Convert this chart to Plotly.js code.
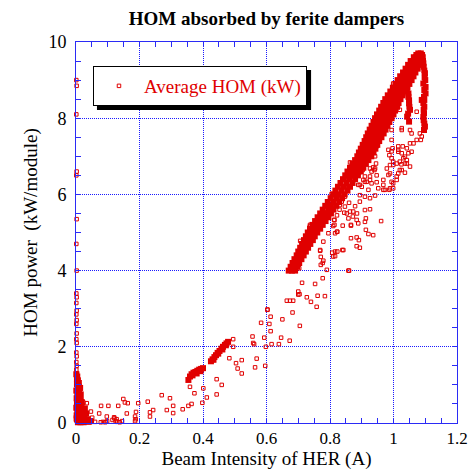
<!DOCTYPE html>
<html>
<head>
<meta charset="utf-8">
<script src="https://cdn.plot.ly/plotly-3.0.1.min.js"></script>
<style>html,body{margin:0;padding:0;background:#fff;}#chart{width:473px;height:470px;}</style>
</head>
<body>
<div id="chart"></div>
<script>
// ---- Data ----
const chartTitle = "HOM absorbed by ferite dampers";
const xTitle = "Beam Intensity of HER (A)";
const yTitle = "HOM power\u00a0\u00a0(kW/module)";
const seriesName = "Average HOM (kW)";

// isolated points hugging the vertical axis (x ~ 0)
const axisX = [0.001,0.002,0.001,0.002,0.001,0.002,0.001,0.002,0.001,0.002,0.001,0.002,0.001,0.002,0.001,0.002,0.001,0.002,0.001,0.002,0.001,0.002,0.001,0.003];
const axisY = [9.00,8.85,8.10,6.60,6.50,5.35,4.70,4.00,3.40,3.30,3.15,2.95,2.85,2.70,2.60,2.35,2.20,2.10,1.85,1.75,1.60,1.50,1.40,1.30];

// dense cluster near the origin
const originX = [0.004,0.006,0.003,0.008,0.005,0.010,0.004,0.012,0.007,0.015,0.003,0.010,0.018,0.006,0.013,0.022,0.004,0.009,0.016,0.027,0.005,0.012,0.020,0.003,0.010,0.018,0.030,0.040,0.006,0.014,0.024,0.035,0.045,0.008,0.002,0.007,0.011,0.016,0.002,0.013,0.020,0.025,0.009,0.003,0.028,0.032,0.015,0.018,0.001,0.001,0.002,0.001];
const originY = [1.22,1.12,1.02,0.96,0.88,0.82,0.74,0.70,0.63,0.60,0.55,0.50,0.46,0.42,0.36,0.35,0.30,0.26,0.24,0.20,0.17,0.14,0.12,0.09,0.06,0.05,0.05,0.03,0.02,0.02,0.02,0.10,0.05,0.45,0.65,0.78,0.38,0.15,0.20,0.92,0.30,0.10,1.05,1.15,0.38,0.25,0.75,0.55,0.85,0.40,0.12,1.28];

// low-intensity scattered points (0.02 - 0.72 A)
const lowX = [0.023,0.034,0.047,0.051,0.079,0.073,0.102,0.097,0.121,0.133,0.149,0.154,0.163,0.160,0.186,0.189,0.196,0.226,0.233,0.233,0.243,0.270,0.286,0.296,0.306,0.306,
  0.078,0.085,0.092,0.098,0.115,0.120,0.125,0.130,0.138,0.145,0.050,0.060,0.188,0.186,0.128,
  0.336,0.354,0.364,0.359,0.373,0.401,0.398,0.412,0.443,0.459,0.443,
  0.483,0.504,0.522,0.509,0.522,0.495,0.495,0.556,0.569,0.561,0.564,0.558,
  0.583,0.593,0.598,0.596,0.603,0.613,0.609,0.613,0.616,0.639,0.646,0.650,0.673,0.664,0.684,0.682,0.700,0.704,0.705,0.603];
const lowY = [0.54,0.52,0.30,0.14,0.45,0.25,0.45,0.17,0.12,0.45,0.63,0.54,0.52,0.25,0.17,0.29,0.52,0.56,0.28,0.17,0.34,0.73,0.34,0.65,0.45,0.26,
  0.02,0.03,0.02,0.05,0.08,0.15,0.05,0.03,0.02,0.05,0.06,0.03,0.10,0.05,0.10,
  0.36,0.45,0.50,0.95,0.78,0.91,0.53,0.67,1.15,1.00,0.75,
  1.70,1.57,1.65,1.43,1.30,2.20,2.00,2.27,1.69,2.07,1.46,2.10,
  2.63,2.24,2.00,1.50,2.97,2.79,2.60,2.41,2.07,2.07,2.24,2.72,2.16,3.21,3.21,2.90,3.45,3.38,2.55,2.98];

// two short dense runs at 0.35-0.40 A and 0.42-0.48 A
const runX = [0.354,0.359,0.364,0.370,0.376,0.382,0.388,0.394,0.400,0.367,0.380,0.392,
  0.425,0.430,0.436,0.441,0.446,0.452,0.458,0.463,0.469,0.474,0.479,0.433,0.448,0.461,0.472];
const runY = [1.13,1.22,1.28,1.32,1.34,1.37,1.40,1.42,1.44,1.25,1.30,1.36,
  1.62,1.67,1.73,1.78,1.84,1.89,1.95,2.00,2.05,2.09,2.13,1.66,1.82,1.93,2.04];

// dense rising band: kW level and the intensities seen at that level
const bandLevels = [4.0,4.1,4.2,4.3,4.4,4.5,4.6,4.7,4.8,4.9,5.0,5.1,5.2,5.3,5.4,5.5,5.6,5.7,5.8,5.9,6.0,6.1,6.2,6.3,6.4,
  6.5,6.6,6.7,6.8,6.9,7.0,7.1,7.2,7.3,7.4,7.5,7.6,7.7,7.8,7.9,8.0,8.1,8.2,8.3,8.4,8.5,8.6,8.7,8.8,8.9,9.0,9.1,9.2,9.3,9.4,9.5,9.6,9.66,9.70];
const bandIntensities = [
  [0.670,0.680,0.690],[0.676,0.687,0.697],[0.682,0.693,0.703],[0.688,0.700,0.710],[0.695,0.706,0.717],
  [0.700,0.712,0.724],[0.706,0.719,0.731],[0.712,0.726,0.738],[0.718,0.732,0.746],[0.724,0.739,0.752],
  [0.730,0.745,0.760],[0.737,0.753,0.769],[0.745,0.761,0.777],[0.753,0.770,0.786],[0.761,0.778,0.795],
  [0.769,0.786,0.803],[0.777,0.795,0.811],[0.785,0.803,0.820],[0.793,0.811,0.829],[0.802,0.820,0.838],
  [0.810,0.828,0.846],[0.817,0.836,0.855],[0.825,0.844,0.863],[0.833,0.852,0.871],[0.841,0.860,0.879],
  [0.848,0.858,0.868,0.878,0.888],[0.855,0.866,0.876,0.886,0.897],[0.863,0.874,0.884,0.894,0.905],
  [0.871,0.882,0.892,0.902,0.913],[0.879,0.890,0.900,0.910,0.921],[0.886,0.897,0.908,0.919,0.930],
  [0.891,0.903,0.914,0.925,0.937],[0.897,0.909,0.920,0.931,0.943],[0.903,0.915,0.926,0.937,0.949],
  [0.909,0.921,0.932,0.943,0.955],[0.914,0.926,0.938,0.950,0.962],[0.919,0.932,0.944,0.956,0.969],
  [0.925,0.938,0.950,0.962,0.975],[0.931,0.944,0.956,0.968,0.981],[0.937,0.950,0.962,0.974,0.987],
  [0.942,0.955,0.968,0.981,0.994],[0.948,0.961,0.974,0.987,1.000],[0.955,0.968,0.980,0.992,1.005],
  [0.961,0.974,0.986,0.998,1.011],[0.968,0.980,0.992,1.004,1.016],[0.974,0.986,0.998,1.010,1.022],
  [0.982,0.994,1.005,1.016,1.028],[0.990,1.002,1.013,1.024,1.035],[0.998,1.009,1.020,1.031,1.042],
  [1.006,1.017,1.028,1.039,1.050],[1.013,1.024,1.035,1.046,1.057],[1.021,1.031,1.042,1.052,1.063],
  [1.030,1.040,1.050,1.060,1.069],[1.038,1.047,1.057,1.066,1.076],[1.046,1.055,1.064,1.073,1.082],
  [1.054,1.063,1.072,1.081,1.090],[1.064,1.071,1.078,1.085,1.092],[1.072,1.082,1.090],[1.078,1.086]];

// falling branches near the top (right edge ~1.09 A and inner ~1.04 A)
const branchX = [1.090,1.093,1.094,1.095,1.097,1.099,1.098,1.100,1.094,1.101,1.097,1.101,1.096,1.097,1.094,1.097,1.095,1.096,1.094,1.095,1.097,1.099,1.096,1.089,
  1.048,1.045,1.042,1.044,1.042,1.047,1.047,1.049,1.049,1.050,1.052,1.043,1.049,1.046];
const branchY = [9.60,9.50,9.44,9.35,9.25,9.18,9.08,9.00,8.91,8.82,8.74,8.65,8.56,8.48,8.40,8.30,8.22,8.13,8.04,7.95,7.86,7.78,7.69,8.48,
  9.05,8.95,8.91,8.82,8.74,8.65,8.56,8.47,8.39,8.30,8.22,8.04,7.91,8.12];

// scattered points below / right of the band
const scatterX = [0.706,0.737,0.771,0.795,0.805,0.834,0.863,0.703,0.712,0.753,0.777,0.784,0.761,0.727,0.700,0.740,0.758,0.674,
  0.790,0.771,0.771,0.779,0.769,0.807,0.816,0.823,0.839,0.860,0.866,0.884,0.884,0.913,0.921,0.936,0.813,0.823,0.840,0.866,0.810,
  0.831,0.847,0.853,0.858,0.863,0.873,0.884,0.879,0.894,0.910,0.910,0.926,0.894,0.910,0.926,0.942,0.961,0.913,0.837,0.847,
  0.894,0.910,0.926,0.947,0.947,0.968,0.973,0.987,0.994,0.999,1.010,1.020,1.036,0.989,0.999,1.010,1.025,1.036,0.979,0.989,0.926,0.942,0.945,0.910,0.903,0.942,0.987,0.994,1.015,1.036,0.999,
  0.994,0.994,0.997,0.984,0.994,1.020,1.042,1.042,1.052,1.026,1.015,1.010,0.947,0.936,0.926,
  1.052,1.057,1.073,1.083,1.089,1.086,1.073,1.063,1.052,1.042,1.057,1.047,1.026,1.026,1.029,1.015,1.015,
  0.979,0.987,1.020,1.015,0.999,0.968,1.026,1.031,0.984,0.968,0.931,0.916,0.905,0.900,0.889,0.921,0.952,0.968,0.989,0.999,0.931,0.940,
  0.737,0.769,0.779,0.814,0.814,0.816,0.822,0.866,0.842,0.816,0.810,0.769,0.777,0.858,0.889,0.891,0.894,0.784,0.822,0.830,0.845,0.860,0.872,0.885];
const scatterY = [4.78,5.17,5.35,4.98,6.01,6.29,6.84,4.06,3.68,3.65,3.80,3.33,3.34,3.30,3.37,3.18,3.05,3.21,
  4.02,4.15,4.36,4.26,4.52,4.47,4.38,4.50,4.54,4.00,4.85,4.87,4.64,5.07,4.96,4.93,5.33,5.02,5.18,5.18,5.17,
  5.72,5.68,5.50,5.37,5.55,5.55,5.33,5.69,5.81,5.59,5.28,5.61,5.98,5.94,5.90,5.97,5.30,5.37,5.81,5.94,
  6.25,6.33,6.38,6.32,6.50,6.25,6.12,6.12,6.33,6.16,6.38,6.64,6.57,6.77,6.77,6.81,6.79,6.81,6.68,6.55,6.68,6.68,6.81,6.47,6.64,7.00,7.03,7.13,7.12,6.99,6.86,
  7.69,7.43,7.21,7.17,6.95,6.86,6.90,6.81,6.73,6.64,6.55,6.47,7.26,6.71,6.47,
  7.69,7.60,8.17,7.60,7.52,7.43,7.43,7.34,7.34,7.21,7.12,7.08,7.74,7.69,7.26,7.26,7.17,
  8.43,8.30,8.22,8.35,8.91,7.60,7.08,6.95,6.51,6.38,6.29,6.33,6.38,6.20,6.25,6.12,6.16,6.12,6.16,6.29,6.60,6.64,
  5.20,5.37,4.76,5.33,5.20,4.98,5.02,5.20,4.54,4.50,4.37,4.54,4.20,4.00,5.24,4.80,4.60,5.63,5.45,5.60,5.52,5.78,5.42,5.50];

const xTickVals = [0,0.2,0.4,0.6,0.8,1,1.2];
const xTickText = ["0","0.2","0.4","0.6","0.8","1","1.2"];
const yTickVals = [0,2,4,6,8,10];
const yTickText = ["0","2","4","6","8","10"];

// ---- assemble ----
const bandX = [], bandY = [];
bandLevels.forEach((lv, i) => bandIntensities[i].forEach(v => { bandX.push(v); bandY.push(lv); }));
const sparseX = [].concat(axisX, lowX, scatterX);
const sparseY = [].concat(axisY, lowY, scatterY);
const denseX = [].concat(originX, runX, bandX, branchX);
const denseY = [].concat(originY, runY, bandY, branchY);

const red = '#e00000';
const blue = '#2b2bf5';
const serif = '"Liberation Serif", "Times New Roman", Times, serif';

const sparseTrace = {
  type: 'scatter', mode: 'markers', name: seriesName, legendgroup: 'hom',
  x: sparseX, y: sparseY, cliponaxis: false,
  marker: {symbol: 'square-open', size: 3.5, color: red, line: {width: 1, color: red}}
};
const denseTrace = {
  type: 'scatter', mode: 'markers', name: seriesName, legendgroup: 'hom', showlegend: false,
  x: denseX, y: denseY, cliponaxis: false,
  marker: {symbol: 'square', size: 6, color: red, line: {width: 0}}
};

function axis(tv, tt, minorD, range, title, tickSize, tickStandoff, titleStandoff) {
  return {
    range: range,
    tickmode: 'array', tickvals: tv, ticktext: tt,
    showgrid: true, gridcolor: '#1a1aff', griddash: '1px,1px', gridwidth: 1,
    zeroline: false, showline: true, linecolor: blue, linewidth: 1, mirror: 'allticks',
    ticks: 'inside', ticklen: 5, tickcolor: blue, tickwidth: 1,
    minor: {dtick: minorD, tick0: 0, ticks: 'inside', ticklen: 5, tickcolor: blue, tickwidth: 1, showgrid: false},
    tickfont: {family: serif, size: tickSize, color: '#000'},
    ticklabelstandoff: tickStandoff,
    title: {text: title, font: {family: serif, size: 19, color: '#000'}, standoff: titleStandoff},
    fixedrange: true
  };
}

const layout = {
  width: 473, height: 470,
  margin: {l: 76, r: 16, t: 42, b: 47, pad: 0},
  paper_bgcolor: '#fff', plot_bgcolor: '#fff',
  title: {text: '<b>' + chartTitle + '</b>', font: {family: serif, size: 19, color: '#000'},
          x: 0.5, xref: 'paper', y: 0.962, yref: 'container', yanchor: 'middle'},
  xaxis: axis(xTickVals, xTickText, 0.05, [0, 1.2], xTitle, 17, 0, 8),
  yaxis: axis(yTickVals, yTickText, 0.5, [0, 10], yTitle, 18, 5, 5),
  showlegend: true,
  legend: {x: 0.0446, y: 0.937, xanchor: 'left', yanchor: 'top', bgcolor: '#fff',
           bordercolor: '#000', borderwidth: 1, itemwidth: 40,
           font: {family: serif, size: 19, color: red}},
  // drop shadow of the legend box (offset right / down)
  shapes: [{type: 'rect', xref: 'paper', yref: 'paper', x0: 0.055, x1: 0.617, y0: 0.8215, y1: 0.9265,
            fillcolor: '#000', line: {width: 0}, layer: 'above'}]
};

Plotly.newPlot('chart', [sparseTrace, denseTrace], layout, {staticPlot: true, displayModeBar: false});
</script>
</body>
</html>
